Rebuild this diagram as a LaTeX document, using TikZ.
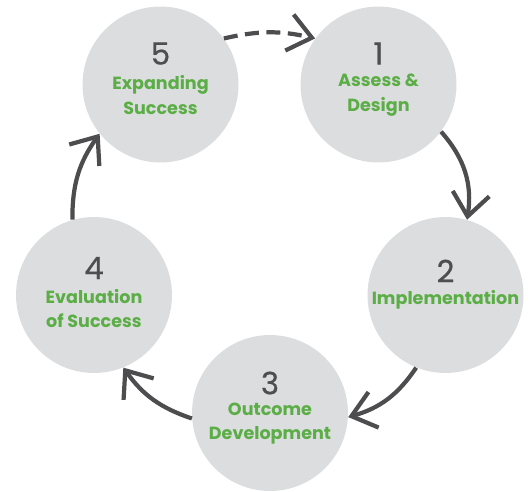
\documentclass[tikz,border=0pt]{standalone}
\usepackage{fontspec}
\setmainfont{Poppins}
\newfontfamily\numfamily[FakeBold=0.6]{Poppins}
\usetikzlibrary{arrows.meta}
\usetikzlibrary{positioning}

\begin{document}
\begin{tikzpicture}
            [x=0.02cm, y=-0.02cm,
            phase/.style={circle, fill=phasecolor, minimum size=3.12cm, inner sep=0pt},
            num/.style={text=numcolor, font=\numfamily\fontsize{17.5}{17.5}\selectfont},
            txt/.style={text=txtcolor, align=center, font=\bfseries\fontsize{10}{14}\selectfont},
            flow/.style={line width=2.4pt, draw=arrowcolor, -{Straight Barb[length=0.46cm, width=0.74cm]}},
            ]
            \definecolor{phasecolor}{HTML}{DCDDDE}
            \definecolor{numcolor}{HTML}{4D4E50}
            \definecolor{txtcolor}{HTML}{5BAD46}
            \definecolor{arrowcolor}{HTML}{4D4D4F}
            \useasboundingbox (0,0) rectangle (530,491);

            % the five phases
            \node[phase] (p5) at (160.5,84.5) {};
            \node[phase] (p1) at (378.5,84.5) {};
            \node[phase] (p2) at (445.5,295) {};
            \node[phase] (p3) at (270,413) {};
            \node[phase] (p4) at (94,295) {};

            \node[num] (n5) at ([yshift=0.62cm]p5.center) {5};
            \node[txt] (t5) at ([yshift=-0.21cm]p5.center) {Expanding\\Success};
            \node[num] (n1) at ([yshift=0.62cm]p1.center) {1};
            \node[txt] (t1) at ([yshift=-0.21cm]p1.center) {Assess \&\\Design};
            \node[num] (n2) at ([yshift=0.48cm]p2.center) {2};
            \node[txt] (t2) at ([yshift=-0.1cm]p2.center) {Implementation};
            \node[num] (n3) at ([yshift=0.6cm]p3.center) {3};
            \node[txt] (t3) at ([yshift=-0.21cm]p3.center) {Outcome\\Development};
            \node[num] (n4) at ([yshift=0.54cm]p4.center) {4};
            \node[txt] (t4) at ([yshift=-0.27cm]p4.center) {Evaluation\\of Success};

            % links
            \draw[flow, dash pattern=on 0.28cm off 0.15cm] (p5.36) to[bend left=13] (p1.144);
            \draw[flow] (p1.-37) to[bend left=25] (p2.74);
            \draw[flow] (p2.248) to[bend left=20] (p3.-3);
            \draw[flow] (p3.184) to[bend left=18] (p4.-68);
            \draw[flow] (p4.106) to[bend left=18] (p5.219);
\end{tikzpicture}
\end{document}
